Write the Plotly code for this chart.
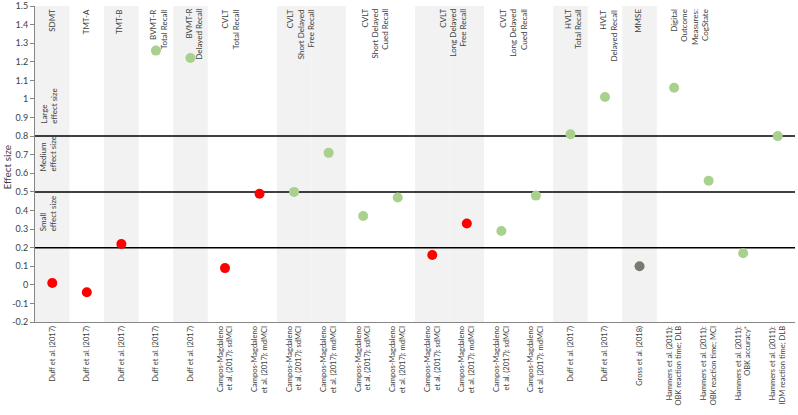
import plotly.graph_objects as go

# ---- data ----
studies = [
    "Duff et al. (2017)", "Duff et al. (2017)", "Duff et al. (2017)", "Duff et al. (2017)", "Duff et al. (2017)",
    "Campos-Magdaleno<br>et al. (2017): sdMCI", "Campos-Magdaleno<br>et al. (2017): mdMCI",
    "Campos-Magdaleno<br>et al. (2017): sdMCI", "Campos-Magdaleno<br>et al. (2017): mdMCI",
    "Campos-Magdaleno<br>et al. (2017): sdMCI", "Campos-Magdaleno<br>et al. (2017): mdMCI",
    "Campos-Magdaleno<br>et al. (2017): sdMCI", "Campos-Magdaleno<br>et al. (2017): mdMCI",
    "Campos-Magdaleno<br>et al. (2017): sdMCI", "Campos-Magdaleno<br>et al. (2017): mdMCI",
    "Duff et al. (2017)", "Duff et al. (2017)", "Gross et al. (2018)",
    "Hammers et al. (2011):<br>OBK reaction time; DLB",
    "Hammers et al. (2011):<br>OBK reaction time; MCI",
    "Hammers et al. (2011):<br>OBK accuracy*",
    "Hammers et al. (2011):<br>IDM reaction time; DLB",
]
effect_sizes = [0.01, -0.04, 0.22, 1.26, 1.22, 0.09, 0.49, 0.50, 0.71, 0.37, 0.47,
                0.16, 0.33, 0.29, 0.48, 0.81, 1.01, 0.10, 1.06, 0.56, 0.17, 0.80]
point_class = ["neg", "neg", "neg", "pos", "pos", "neg", "neg", "pos", "pos", "pos", "pos",
               "neg", "neg", "pos", "pos", "pos", "pos", "na", "pos", "pos", "pos", "pos"]

test_names = ["SDMT", "TMT-A", "TMT-B", "BVMT-R<br>Total Recall", "BVMT-R<br>Delayed Recall",
              "CVLT<br>Total Recall", "CVLT<br>Short Delayed<br>Free Recall",
              "CVLT<br>Short Delayed<br>Cued Recall", "CVLT<br>Long Delayed<br>Free Recall",
              "CVLT<br>Long Delayed<br>Cued Recall", "HVLT<br>Total Recall",
              "HVLT<br>Delayed Recall", "MMSE", "Digital<br>Outcome<br>Measures:<br>CogState"]
shaded_columns = [0, 2, 4, 7, 8, 11, 12, 15, 17]

thresholds = [0.2, 0.5, 0.8]
threshold_labels = ["Small<br>effect size", "Medium<br>effect size", "Large<br>effect size"]

y_ticks = [-0.2, -0.1, 0, 0.1, 0.2, 0.3, 0.4, 0.5, 0.6, 0.7, 0.8, 0.9, 1.0, 1.1, 1.2, 1.3, 1.4, 1.5]
y_tick_text = ["-0.2", "-0.1", "0", "0.1", "0.2", "0.3", "0.4", "0.5", "0.6", "0.7", "0.8",
               "0.9", "1", "1.1", "1.2", "1.3", "1.4", "1.5"]

# ---- layout helpers ----
test_label_x = [-0.03, 0.97, 1.92, 3.07, 4.08, 5.15, 7.18, 9.33, 11.59, 13.33, 15.07, 16.1, 16.95, 18.43]
threshold_label_y = [0.275, 0.597, 0.854]
colors = {"neg": "#FF0000", "pos": "#A9D18E", "na": "#767B72"}
FONT = "Lato"
TXT = "#404040"

n = len(studies)
x = list(range(n))
fig = go.Figure()
fig.add_trace(go.Scatter(
    x=x, y=effect_sizes, mode="markers",
    marker=dict(size=10, color=[colors[c] for c in point_class], line=dict(width=0)),
    showlegend=False, hoverinfo="y", cliponaxis=False))

shapes = []
for c in shaded_columns:
    shapes.append(dict(type="rect", xref="x", yref="y", x0=c - 0.5, x1=c + 0.5, y0=-0.2, y1=1.5,
                       fillcolor="#F2F2F2", line=dict(width=0), layer="below"))
for t in thresholds:
    shapes.append(dict(type="line", xref="x", yref="y", x0=-0.5, x1=n - 0.5, y0=t, y1=t,
                       line=dict(color="#000000", width=1.5), layer="below"))

annotations = []
for name, px in zip(test_names, test_label_x):
    annotations.append(dict(x=px, y=1.5, xref="x", yref="y", text=name, showarrow=False,
                            textangle=-90, xanchor="center", yanchor="top", yshift=-1,
                            align="right", font=dict(family=FONT, size=8, color=TXT)))
for lab, ly in zip(threshold_labels, threshold_label_y):
    annotations.append(dict(x=-0.12, y=ly, xref="x", yref="y", text=lab, showarrow=False,
                            textangle=-90, xanchor="center", yanchor="bottom",
                            align="left", font=dict(family=FONT, size=8, color=TXT)))
annotations.append(dict(x=-0.0455, y=0.49, xref="paper", yref="paper", text="Effect size",
                        showarrow=False, textangle=-90, xanchor="left", yanchor="middle",
                        borderpad=0, font=dict(family=FONT, size=10, color=TXT)))

fig.update_layout(
    width=798, height=415,
    margin=dict(l=35, r=3, t=6, b=93, autoexpand=False),
    paper_bgcolor="white", plot_bgcolor="white",
    font=dict(family=FONT, size=8, color=TXT),
    shapes=shapes, annotations=annotations,
    xaxis=dict(range=[-0.5, n - 0.5], tickmode="array", tickvals=x, ticktext=studies,
               tickangle=-90, showgrid=False, zeroline=False, showline=True, automargin=False,
               linecolor="#868686", linewidth=1, ticks="", ticklabeloverflow="allow",
               tickfont=dict(family=FONT, size=7.5, color=TXT)),
    yaxis=dict(range=[-0.2, 1.5], tickmode="array", tickvals=y_ticks, ticktext=y_tick_text,
               showgrid=False, zeroline=False, showline=True, linecolor="#868686", linewidth=1,
               ticks="outside", ticklen=4, tickcolor="#868686", automargin=False,
               ticklabeloverflow="allow",
               tickfont=dict(family=FONT, size=9, color=TXT)),
)

fig.write_html("out.html", config={"displayModeBar": False},
               post_script="document.body.style.margin='0';document.body.style.padding='0';")
